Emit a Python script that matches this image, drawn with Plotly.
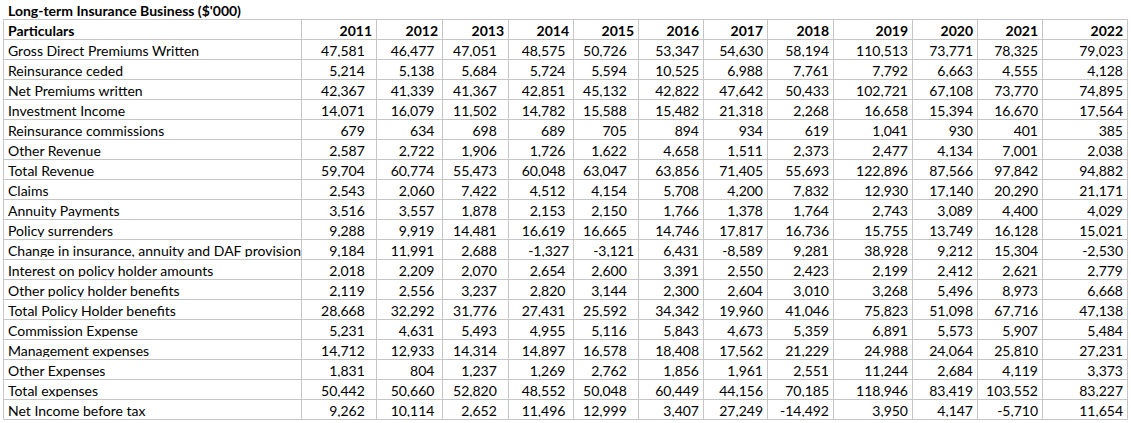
import plotly.graph_objects as go

title = "Long-term Insurance Business ($'000)"
years = [2011, 2012, 2013, 2014, 2015, 2016, 2017, 2018, 2019, 2020, 2021, 2022]

particulars = [
    "Gross Direct Premiums Written",
    "Reinsurance ceded",
    "Net Premiums written",
    "Investment Income",
    "Reinsurance commissions",
    "Other Revenue",
    "Total Revenue",
    "Claims",
    "Annuity Payments",
    "Policy surrenders",
    "Change in insurance, annuity and DAF provision",
    "Interest on policy holder amounts",
    "Other policy holder benefits",
    "Total Policy Holder benefits",
    "Commission Expense",
    "Management expenses",
    "Other Expenses",
    "Total expenses",
    "Net Income before tax",
]

gross_direct_premiums = [47581, 46477, 47051, 48575, 50726, 53347, 54630, 58194, 110513, 73771, 78325, 79023]
reinsurance_ceded = [5214, 5138, 5684, 5724, 5594, 10525, 6988, 7761, 7792, 6663, 4555, 4128]
net_premiums = [42367, 41339, 41367, 42851, 45132, 42822, 47642, 50433, 102721, 67108, 73770, 74895]
investment_income = [14071, 16079, 11502, 14782, 15588, 15482, 21318, 2268, 16658, 15394, 16670, 17564]
reinsurance_commissions = [679, 634, 698, 689, 705, 894, 934, 619, 1041, 930, 401, 385]
other_revenue = [2587, 2722, 1906, 1726, 1622, 4658, 1511, 2373, 2477, 4134, 7001, 2038]
total_revenue = [59704, 60774, 55473, 60048, 63047, 63856, 71405, 55693, 122896, 87566, 97842, 94882]
claims = [2543, 2060, 7422, 4512, 4154, 5708, 4200, 7832, 12930, 17140, 20290, 21171]
annuity_payments = [3516, 3557, 1878, 2153, 2150, 1766, 1378, 1764, 2743, 3089, 4400, 4029]
policy_surrenders = [9288, 9919, 14481, 16619, 16665, 14746, 17817, 16736, 15755, 13749, 16128, 15021]
change_in_provision = [9184, 11991, 2688, -1327, -3121, 6431, -8589, 9281, 38928, 9212, 15304, -2530]
interest_on_policy = [2018, 2209, 2070, 2654, 2600, 3391, 2550, 2423, 2199, 2412, 2621, 2779]
other_policy_benefits = [2119, 2556, 3237, 2820, 3144, 2300, 2604, 3010, 3268, 5496, 8973, 6668]
total_policy_benefits = [28668, 32292, 31776, 27431, 25592, 34342, 19960, 41046, 75823, 51098, 67716, 47138]
commission_expense = [5231, 4631, 5493, 4955, 5116, 5843, 4673, 5359, 6891, 5573, 5907, 5484]
management_expenses = [14712, 12933, 14314, 14897, 16578, 18408, 17562, 21229, 24988, 24064, 25810, 27231]
other_expenses = [1831, 804, 1237, 1269, 2762, 1856, 1961, 2551, 11244, 2684, 4119, 3373]
total_expenses = [50442, 50660, 52820, 48552, 50048, 60449, 44156, 70185, 118946, 83419, 103552, 83227]
net_income_before_tax = [9262, 10114, 2652, 11496, 12999, 3407, 27249, -14492, 3950, 4147, -5710, 11654]

rows = [
    gross_direct_premiums, reinsurance_ceded, net_premiums, investment_income,
    reinsurance_commissions, other_revenue, total_revenue, claims, annuity_payments,
    policy_surrenders, change_in_provision, interest_on_policy, other_policy_benefits,
    total_policy_benefits, commission_expense, management_expenses, other_expenses,
    total_expenses, net_income_before_tax,
]

# ---- styling / layout settings ----
W, H = 1131, 423
FONT = "Lato, Carlito, Calibri, sans-serif"
GRID = "#c6c6c6"
ROW_H = 20
GRID_LEFT = 3.5          # px, left border of the table
GRID_TOP = 19.5          # px, top border of the table
col_px = [298, 75, 66, 66, 65, 65, 65, 64, 66, 79, 65, 65, 85]  # visible column widths
TEXT_SHIFT = 4           # table text is drawn slightly right of the visible grid
TEXT_RAISE = 2.5         # and slightly higher
# extra right padding (in non-breaking spaces) for positive values per year column
value_pad = [2, 1, 2, 1, 2, 0, 0, 0, 0, 0, 0, 0]

NB = "\u00a0"

# build table columns (non-breaking spaces keep each label on one line)
col_values = [[p.replace(" ", NB) for p in particulars]]
for j in range(len(years)):
    col_values.append([f"{r[j]:,}" + (NB * value_pad[j] if r[j] >= 0 else "") for r in rows])

header_vals = ["Particulars"] + [str(y) for y in years]

# text-table geometry (invisible lines), grid drawn separately
n_rows = len(rows) + 1
tbl_widths = [col_px[0] + GRID_LEFT + TEXT_SHIFT - 0.5] + col_px[1:]
tbl_x0 = 0
tbl_x1 = tbl_x0 + sum(tbl_widths)
tbl_top = GRID_TOP - TEXT_RAISE
tbl_bottom = tbl_top + n_rows * ROW_H

fig = go.Figure(go.Table(
    domain=dict(x=[tbl_x0 / W, min(tbl_x1 / W, 1)], y=[1 - tbl_bottom / H, 1 - tbl_top / H]),
    columnwidth=tbl_widths,
    header=dict(
        values=header_vals,
        align=["left"] + ["right"] * len(years),
        fill_color="white",
        line=dict(color="white", width=0),
        font=dict(family=FONT, size=14, color="black", weight="bold"),
        height=ROW_H,
    ),
    cells=dict(
        values=col_values,
        align=["left"] + ["right"] * len(years),
        fill_color="white",
        line=dict(color="white", width=0),
        font=dict(family=FONT, size=14, color="black"),
        height=ROW_H,
    ),
))

# grid lines
grid_bottom = GRID_TOP + n_rows * ROW_H
xs = [GRID_LEFT]
for w in col_px:
    xs.append(xs[-1] + w)
for k in range(n_rows + 1):
    y = GRID_TOP + k * ROW_H
    fig.add_shape(type="line", xref="paper", yref="paper",
                  x0=GRID_LEFT / W, x1=xs[-1] / W, y0=1 - y / H, y1=1 - y / H,
                  line=dict(color=GRID, width=1), layer="above")
for x in xs:
    fig.add_shape(type="line", xref="paper", yref="paper",
                  x0=x / W, x1=x / W, y0=1 - grid_bottom / H, y1=1 - GRID_TOP / H,
                  line=dict(color=GRID, width=1), layer="above")

fig.add_annotation(
    text=title, x=6 / W, y=1 - 10 / H, xref="paper", yref="paper",
    xanchor="left", yanchor="middle", showarrow=False,
    font=dict(family=FONT, size=14, color="black", weight="bold"),
)

fig.update_layout(
    width=W, height=H, margin=dict(l=0, r=0, t=0, b=0),
    paper_bgcolor="white", plot_bgcolor="white",
)

fig.write_html(
    "out.html",
    config={"displayModeBar": False},
    post_script="document.body.style.margin='0';document.body.style.overflow='hidden';",
)
